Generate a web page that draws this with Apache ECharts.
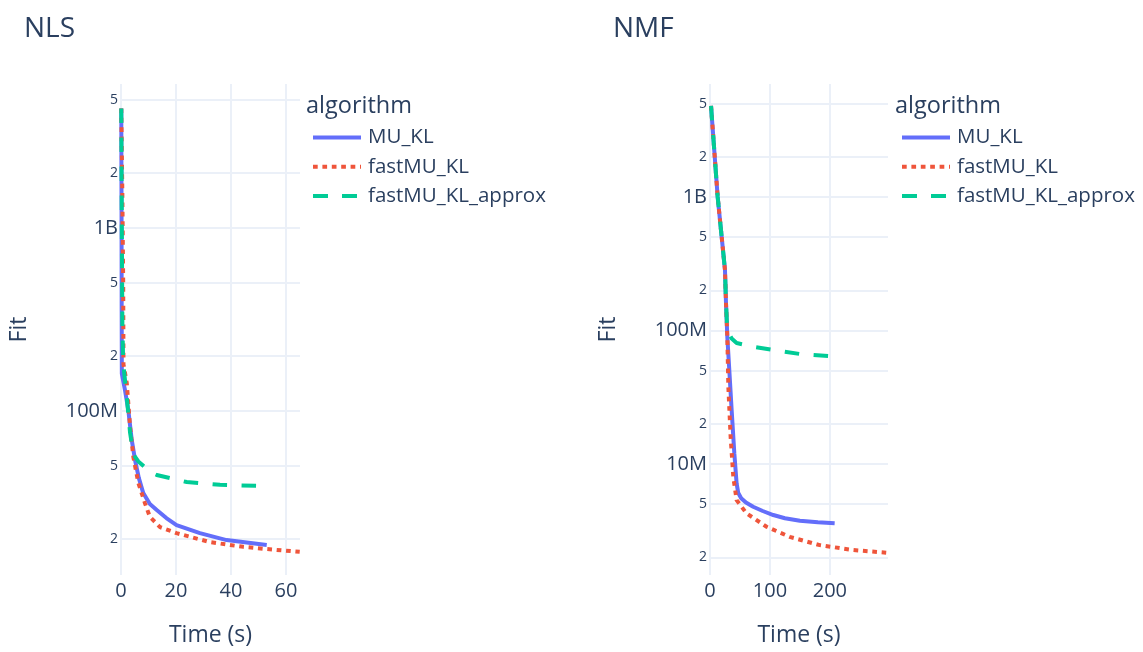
<!DOCTYPE html>
<html>
<head>
<meta charset="utf-8">
<script src="https://cdn.jsdelivr.net/npm/echarts@6/dist/echarts.min.js"></script>
<style>
html,body{margin:0;padding:0;background:#fff;}
#chart{width:1143px;height:652px;}
</style>
</head>
<body>
<div id="chart"></div>
<script>
// ---- Data ----
const seriesNames = ['MU_KL', 'fastMU_KL', 'fastMU_KL_approx'];

// NLS panel
const nlsTime_MU = [0.1, 0.2, 0.25, 0.3, 1.45, 2.7, 3.9, 5.2, 6.5, 8.1, 10.5, 13, 16.5, 20.2, 28.7, 38.4, 53];
const nlsFit_MU  = [4.5e9, 1.2e9, 3.5e8, 1.6e8, 1.3e8, 1.0e8, 6.95e7, 5.3e7, 4.3e7, 3.56e7, 3.1e7, 2.88e7, 2.6e7, 2.38e7, 2.15e7, 1.97e7, 1.85e7];
const nlsTime_fast = [0.1, 0.5, 0.8, 0.9, 2.1, 3.3, 4.5, 6.3, 8.7, 10.5, 14.2, 20.2, 32.4, 44.5, 53, 65];
const nlsFit_fast  = [4.5e9, 1.5e9, 5e8, 1.8e8, 1.42e8, 8.2e7, 5.6e7, 4.05e7, 3.14e7, 2.64e7, 2.32e7, 2.15e7, 1.92e7, 1.81e7, 1.76e7, 1.70e7];
const nlsTime_approx = [0.1, 0.3, 0.5, 0.8, 2.1, 3.3, 4.5, 6.3, 11, 13, 23.9, 36, 53];
const nlsFit_approx  = [4.5e9, 1e9, 3e8, 1.83e8, 1.19e8, 7.6e7, 5.8e7, 5.3e7, 4.6e7, 4.47e7, 4.09e7, 3.95e7, 3.89e7];

// NMF panel
const nmfTime_MU = [1.7, 12.8, 25, 26.7, 28.9, 32.2, 36.1, 40.6, 44.4, 47, 52, 60, 72, 88, 105.6, 125, 150, 180, 208];
const nmfFit_MU  = [4.8e9, 1e9, 2.84e8, 1.6e8, 8.97e7, 5.06e7, 2.54e7, 1.2e7, 7.16e6, 6.1e6, 5.55e6, 5.15e6, 4.79e6, 4.45e6, 4.15e6, 3.93e6, 3.76e6, 3.66e6, 3.6e6];
const nmfTime_fast = [1.7, 12.8, 25, 26.7, 28.9, 30.6, 34.4, 38.9, 44.4, 61, 94.4, 133, 183, 239, 294];
const nmfFit_fast  = [4.8e9, 1e9, 2.84e8, 1.6e8, 8.97e7, 3.8e7, 1.6e7, 8.0e6, 5.37e6, 4.27e6, 3.39e6, 2.85e6, 2.47e6, 2.27e6, 2.17e6];
const nmfTime_approx = [1.7, 12.8, 25, 26.7, 28.9, 36.1, 44.4, 72, 105.6, 150, 214];
const nmfFit_approx  = [4.8e9, 1e9, 2.84e8, 1.6e8, 1.0e8, 8.7e7, 8.06e7, 7.56e7, 7.15e7, 6.67e7, 6.37e7];

// Tick values
const nlsXTicks = [0, 20, 40, 60];
const nmfXTicks = [0, 100, 200];
const nlsYTicks = [2e7, 5e7, 1e8, 2e8, 5e8, 1e9, 2e9, 5e9];
const nmfYTicks = [2e6, 5e6, 1e7, 2e7, 5e7, 1e8, 2e8, 5e8, 1e9, 2e9, 5e9];
const nlsXRange = [0, 65.1];
const nmfXRange = [0, 297];
const nlsYRange = [1.27e7, 6.12e9];
const nmfYRange = [1.476e6, 7.01e9];

// ---- Styling ----
const FONT = '"Open Sans", "DejaVu Sans", sans-serif';
const TXT = '#2a3f5f';
const GRID = '#EBF0F8';
const colors = ['#636efa', '#EF553B', '#00cc96'];
const dashes = ['solid', [4.7, 4.7], [14.5, 14.5]];

function pairs(t, v) { return t.map((x, i) => [x, Math.log10(v[i])]); }

function fmtY(lv) {
  const val = Math.pow(10, lv);
  const e = Math.floor(lv + 1e-9);
  const m = Math.round(val / Math.pow(10, e));
  if (m === 1) {
    let s;
    if (val >= 1e9) s = Math.round(val / 1e9) + 'B';
    else if (val >= 1e6) s = Math.round(val / 1e6) + 'M';
    else if (val >= 1e3) s = Math.round(val / 1e3) + 'k';
    else s = String(Math.round(val));
    return '{b|' + s + '}';
  }
  return '{s|' + m + '}';
}

function xAxis(gi, ticks, range) {
  return {
    type: 'value', gridIndex: gi, min: range[0], max: range[1],
    name: 'Time (s)', nameLocation: 'middle', nameGap: 49,
    nameTextStyle: { fontFamily: FONT, fontSize: 23, color: TXT },
    axisLine: { show: false }, axisTick: { show: false, customValues: ticks },
    axisLabel: { customValues: ticks, fontFamily: FONT, fontSize: 20, color: TXT, margin: 6 },
    splitLine: { show: true, lineStyle: { color: GRID, width: 2 } }
  };
}
function yAxis(gi, ticks, range) {
  const lt = ticks.map(v => Math.log10(v));
  return {
    type: 'value', gridIndex: gi, min: Math.log10(range[0]), max: Math.log10(range[1]),
    name: 'Fit', nameLocation: 'middle', nameGap: 90,
    nameTextStyle: { fontFamily: FONT, fontSize: 23, color: TXT },
    axisLine: { show: false }, axisTick: { show: false, customValues: lt },
    axisLabel: {
      customValues: lt, margin: 3, formatter: fmtY, color: TXT, fontFamily: FONT,
      rich: {
        b: { fontSize: 20, color: TXT, fontFamily: FONT },
        s: { fontSize: 14, color: TXT, fontFamily: FONT }
      }
    },
    splitLine: { show: true, lineStyle: { color: GRID, width: 2 } }
  };
}

const panels = [
  { t: [nlsTime_MU, nlsTime_fast, nlsTime_approx], v: [nlsFit_MU, nlsFit_fast, nlsFit_approx] },
  { t: [nmfTime_MU, nmfTime_fast, nmfTime_approx], v: [nmfFit_MU, nmfFit_fast, nmfFit_approx] }
];
const series = [];
panels.forEach((p, gi) => {
  seriesNames.forEach((name, k) => {
    series.push({
      name: name, type: 'line', xAxisIndex: gi, yAxisIndex: gi,
      data: pairs(p.t[k], p.v[k]),
      showSymbol: false, symbol: 'none', smooth: false,
      lineStyle: { color: colors[k], width: 4, type: dashes[k], cap: 'butt' },
      itemStyle: { color: colors[k] },
      animation: false
    });
  });
});

const legendDashes = ['solid', [4.7, 4.7], [15, 14]];
function legend(left) {
  return {
    data: seriesNames.map((n, k) => ({
      name: n,
      itemStyle: { opacity: 0 },
      lineStyle: { width: 4, type: legendDashes[k], color: colors[k], cap: 'butt' }
    })),
    orient: 'vertical', left: left, top: 122,
    itemWidth: 48, itemHeight: 14, itemGap: 8.3,
    itemStyle: { opacity: 0 },
    lineStyle: { width: 4 },
    textStyle: { fontFamily: FONT, fontSize: 20.5, color: TXT, padding: [0, 0, 0, 2] }
  };
}

const option = {
  backgroundColor: '#ffffff',
  animation: false,
  title: [
    { text: 'NLS', left: 19, top: 10, textStyle: { fontFamily: FONT, fontSize: 28, fontWeight: 'normal', color: TXT } },
    { text: 'NMF', left: 608, top: 10, textStyle: { fontFamily: FONT, fontSize: 28, fontWeight: 'normal', color: TXT } },
    { text: 'algorithm', left: 301, top: 89, textStyle: { fontFamily: FONT, fontSize: 23.5, fontWeight: 'normal', color: TXT } },
    { text: 'algorithm', left: 890, top: 89, textStyle: { fontFamily: FONT, fontSize: 23.5, fontWeight: 'normal', color: TXT } }
  ],
  legend: [legend(306), legend(895)],
  grid: [
    { left: 121, top: 84, width: 179, height: 491, containLabel: false },
    { left: 710, top: 84, width: 178, height: 491, containLabel: false }
  ],
  xAxis: [xAxis(0, nlsXTicks, nlsXRange), xAxis(1, nmfXTicks, nmfXRange)],
  yAxis: [yAxis(0, nlsYTicks, nlsYRange), yAxis(1, nmfYTicks, nmfYRange)],
  series: series
};

const chart = echarts.init(document.getElementById('chart'), null, { renderer: 'canvas' });
chart.setOption(option);
</script>
</body>
</html>
